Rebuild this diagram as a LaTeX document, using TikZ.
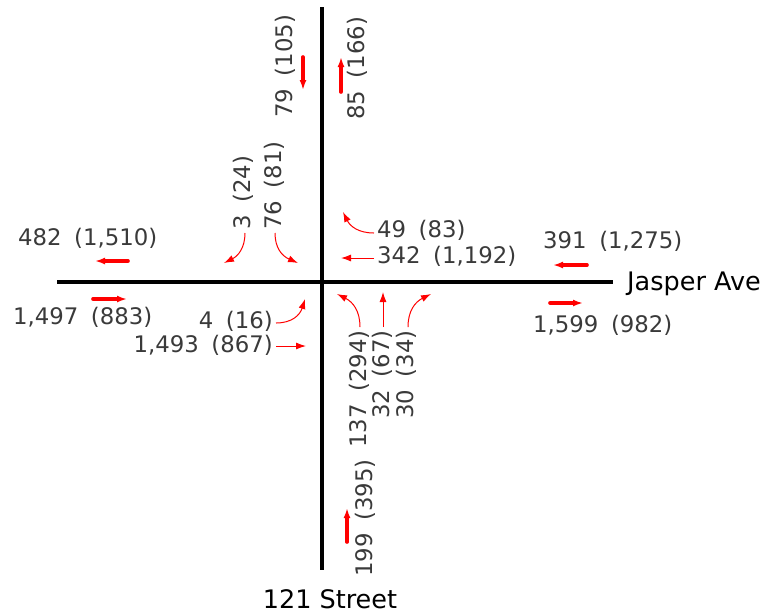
\documentclass[tikz,border=0pt]{standalone}
\usepackage{fontspec}
\setmainfont{DejaVu Sans}
\usetikzlibrary{arrows.meta}
\definecolor{lblgray}{HTML}{3A3A3A}
\definecolor{arrred}{HTML}{FF0000}
\newcommand\lblpair[2]{#1\hspace{0.55em}#2}
\tikzset{
  road/.style={line width=4.5pt, black},
  lab/.style={inner sep=0pt, text=lblgray, font=\fontsize{22.8}{22.8}\selectfont, anchor=west},
  vlab/.style={lab, rotate=90},
  vlabtop/.style={lab, rotate=90, anchor=east},
  tarrow/.style={draw=arrred, line width=1pt, -{Latex[length=10pt,width=7pt]}},
  barrow/.style={draw=arrred, line width=3.6pt, line cap=round, -{Latex[length=10pt,width=7pt]}},
  roadname/.style={inner sep=0pt, font=\fontsize{25.5}{25.5}\selectfont}
}
\begin{document}
\begin{tikzpicture}[x=1pt,y=-1pt]
\useasboundingbox (0,0) rectangle (778,614);
% roads
\coordinate (nTop) at (322,7);
\coordinate (nBot) at (322,570);
\coordinate (wEnd) at (57,282);
\coordinate (eEnd) at (613,282);
\draw[road] (nTop) -- (nBot);
\draw[road] (wEnd) -- (eEnd);
\node[roadname, anchor=west] (jasper) at (627,284) {Jasper Ave};
\node[roadname] (street) at (330,599) {121 Street};

% west approach / leg
\node[lab] (w1) at (18,238) {\lblpair{482}{(1,510)}};
\draw[barrow] (128,261) -- (95,261);
\node[lab] (w2) at (13,317) {\lblpair{1,497}{(883)}};
\draw[barrow] (93,299) -- (127,299);
\node[lab, anchor=east] (w3) at (273,321) {\lblpair{4}{(16)}};
\draw[tarrow] (276,323) .. controls (292,323) and (300,315) .. (305,299);
\node[lab, anchor=east] (w4) at (273,345) {\lblpair{1,493}{(867)}};
\draw[tarrow] (276,346) -- (306,346);

% east approach / leg
\node[lab] (e1) at (543,241) {\lblpair{391}{(1,275)}};
\draw[barrow] (587,265) -- (553,265);
\node[lab] (e2) at (533,325) {\lblpair{1,599}{(982)}};
\draw[barrow] (550,303) -- (583,303);
\node[lab] (e3) at (377,230) {\lblpair{49}{(83)}};
\draw[tarrow] (374,233) .. controls (358,233) and (350,226) .. (343,212);
\node[lab] (e4) at (377,256) {\lblpair{342}{(1,192)}};
\draw[tarrow] (374,258) -- (341,258);

% north approach / leg
\node[vlab] (n1) at (285,118) {\lblpair{79}{(105)}};
\draw[barrow] (303,57) -- (303,90);
\node[vlab] (n2) at (357,120) {\lblpair{85}{(166)}};
\draw[barrow] (341,92) -- (341,57);
\node[vlab] (n3) at (243,230) {\lblpair{3}{(24)}};
\draw[tarrow] (245,233) .. controls (245,248) and (238,256) .. (224,263);
\node[vlab] (n4) at (274,230) {\lblpair{76}{(81)}};
\draw[tarrow] (275,233) .. controls (275,248) and (282,256) .. (298,263);

% south approach / leg
\node[vlabtop] (s1) at (359,330) {\lblpair{137}{(294)}};
\node[vlabtop] (s2) at (382,330) {\lblpair{32}{(67)}};
\node[vlabtop] (s3) at (406,330) {\lblpair{30}{(34)}};
\draw[tarrow] (360,327) .. controls (360,311) and (353,302) .. (337,294);
\draw[tarrow] (383,327) -- (383,292);
\draw[tarrow] (408,327) .. controls (408,311) and (415,302) .. (431,294);
\node[vlab] (s4) at (365,577) {\lblpair{199}{(395)}};
\draw[barrow] (347,542) -- (347,508);
\end{tikzpicture}
\end{document}
